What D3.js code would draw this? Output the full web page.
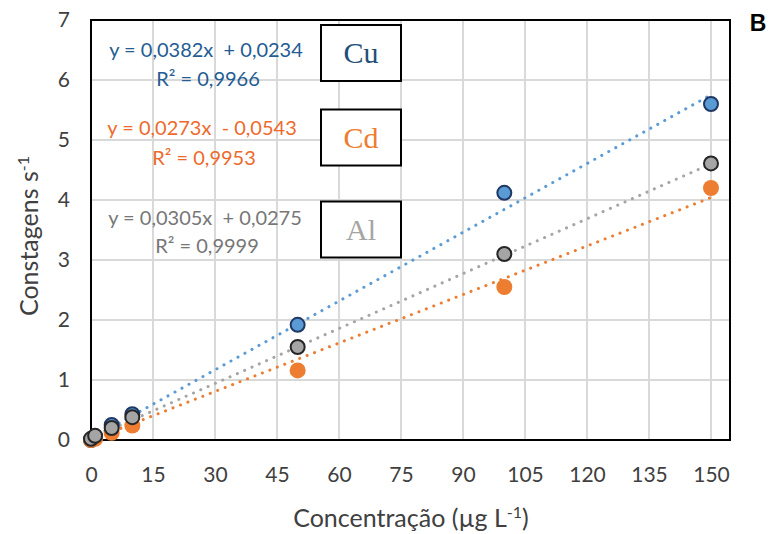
<!DOCTYPE html>
<html>
<head>
<meta charset="utf-8">
<script src="https://cdn.jsdelivr.net/npm/d3@7"></script>
<style>
  html, body { margin: 0; padding: 0; background: #fff; }
  svg { display: block; }
</style>
</head>
<body>
<svg id="chart" width="771" height="534"></svg>
<script>
// ---- data ----
const concentrations = [0, 1, 5, 10, 50, 100, 150];
const cuValues = [0, 0.05, 0.25, 0.43, 1.92, 4.12, 5.6];
const cdValues = [0, 0.02, 0.12, 0.24, 1.16, 2.55, 4.2];
const alValues = [0.02, 0.07, 0.2, 0.38, 1.55, 3.1, 4.61];
const xTicks = [0, 15, 30, 45, 60, 75, 90, 105, 120, 135, 150];
const yTicks = [0, 1, 2, 3, 4, 5, 6, 7];
const seriesNames = ["Cu", "Cd", "Al"];
const slopes = [0.0382, 0.0273, 0.0305];
const intercepts = [0.0234, -0.0543, 0.0275];
const equations = ["y = 0,0382x  + 0,0234", "y = 0,0273x  - 0,0543", "y = 0,0305x  + 0,0275"];
const r2Labels = ["R² = 0,9966", "R² = 0,9953", "R² = 0,9999"];
const xDomainMax = 154.6;
const yDomainMax = 7;

// ---- styles ----
const styles = [
  { fill: "#5B9BD5", stroke: "#1F3864", sw: 2, r: 7, line: "#5B9BD5", eq: "#245C93", label: "#1F4E79" },
  { fill: "#ED7D31", stroke: "none", sw: 0, r: 8, line: "#ED7D31", eq: "#EE6A2C", label: "#ED7D31" },
  { fill: "#A5A5A5", stroke: "#262626", sw: 2, r: 7, line: "#A5A5A5", eq: "#777777", label: "#A5A5A5" }
];
const eqPos = [ {cx: 206, y1: 57, y2: 86, by: 53}, {cx: 202, y1: 135, y2: 165, by: 137.5}, {cx: 205, y1: 225, y2: 253, by: 229.5} ];
const fontSans = "Lato, 'Noto Sans', sans-serif";

const svg = d3.select("#chart");
const pLeft = 91, pRight = 730, pTop = 20, pBottom = 440;

const x = d3.scaleLinear().domain([0, xDomainMax]).range([pLeft, pRight]);
const y = d3.scaleLinear().domain([0, yDomainMax]).range([pBottom, pTop]);

// gridlines
svg.append("g").selectAll("line").data(xTicks.filter(d => d > 0)).join("line")
  .attr("x1", d => x(d)).attr("x2", d => x(d)).attr("y1", pTop).attr("y2", pBottom)
  .attr("stroke", "#d9d9d9").attr("stroke-width", 2);
svg.append("g").selectAll("line").data(yTicks.filter(d => d > 0)).join("line")
  .attr("x1", pLeft).attr("x2", pRight).attr("y1", d => y(d)).attr("y2", d => y(d))
  .attr("stroke", "#d9d9d9").attr("stroke-width", 2);

// frame
svg.append("rect").attr("x", pLeft).attr("y", y(yDomainMax)).attr("width", pRight - pLeft).attr("height", pBottom - y(yDomainMax))
  .attr("fill", "none").attr("stroke", "#000").attr("stroke-width", 2);

// axes
const xAxis = svg.append("g").attr("transform", `translate(0,${pBottom})`)
  .call(d3.axisBottom(x).tickValues(xTicks).tickFormat(d3.format("d")).tickSize(0).tickPadding(27));
xAxis.select(".domain").remove();
xAxis.selectAll("text").attr("font-family", fontSans).attr("font-size", 21).attr("fill", "#404040");

const yAxis = svg.append("g").attr("transform", `translate(${pLeft},0)`)
  .call(d3.axisLeft(y).tickValues(yTicks).tickFormat(d3.format("d")).tickSize(0).tickPadding(21));
yAxis.select(".domain").remove();
yAxis.selectAll("text").attr("font-family", fontSans).attr("font-size", 21).attr("fill", "#404040");

// axis titles
const xt = svg.append("text").attr("x", 411).attr("y", 527).attr("text-anchor", "middle")
  .attr("font-family", fontSans).attr("font-size", 25).attr("fill", "#404040");
xt.append("tspan").text("Concentração (µg L");
xt.append("tspan").attr("dy", -9).attr("font-size", 16).text("-1");
xt.append("tspan").attr("dy", 9).text(")");

const yt = svg.append("text").attr("transform", "translate(38,236) rotate(-90)").attr("text-anchor", "middle")
  .attr("font-family", fontSans).attr("font-size", 25).attr("fill", "#404040");
yt.append("tspan").text("Constagens s");
yt.append("tspan").attr("dy", -9).attr("font-size", 16).text("-1");

// trendlines
const allValues = [cuValues, cdValues, alValues];
seriesNames.forEach((name, i) => {
  const pts = [0, d3.max(concentrations)].map(c => [c, slopes[i] * c + intercepts[i]]);
  svg.append("line")
    .attr("x1", x(pts[0][0])).attr("y1", y(Math.max(0, pts[0][1])))
    .attr("x2", x(pts[1][0])).attr("y2", y(pts[1][1]))
    .attr("stroke", styles[i].line).attr("stroke-width", 3)
    .attr("stroke-linecap", "round").attr("stroke-dasharray", "0.1 7.9");
});

// markers
seriesNames.forEach((name, i) => {
  const data = concentrations.map((c, j) => ({ c, v: allValues[i][j] }));
  svg.append("g").selectAll("circle").data(data).join("circle")
    .attr("cx", d => x(d.c)).attr("cy", d => y(d.v)).attr("r", styles[i].r)
    .attr("fill", styles[i].fill).attr("stroke", styles[i].stroke).attr("stroke-width", styles[i].sw);
});

// equations and labels
seriesNames.forEach((name, i) => {
  const p = eqPos[i];
  svg.append("text").attr("x", p.cx).attr("y", p.y1).attr("text-anchor", "middle")
    .attr("font-family", fontSans).attr("font-size", 20).attr("fill", styles[i].eq)
    .style("white-space", "pre").text(equations[i]);
  svg.append("text").attr("x", p.cx + 2).attr("y", p.y2).attr("text-anchor", "middle")
    .attr("font-family", fontSans).attr("font-size", 20).attr("fill", styles[i].eq)
    .text(r2Labels[i]);
  svg.append("rect").attr("x", 321).attr("y", p.by - 28).attr("width", 80).attr("height", 56)
    .attr("fill", "#fff").attr("stroke", "#000").attr("stroke-width", 2);
  svg.append("text").attr("x", 361).attr("y", p.by + 10).attr("text-anchor", "middle")
    .attr("font-family", "'Liberation Serif', 'DejaVu Serif', serif").attr("font-size", 30).attr("fill", styles[i].label)
    .text(name);
});

// panel letter
svg.append("text").attr("x", 758).attr("y", 31).attr("text-anchor", "middle")
  .attr("font-family", "'Liberation Sans', Arial, sans-serif").attr("font-weight", "bold").attr("font-size", 23).attr("fill", "#000")
  .text("B");
</script>
</body>
</html>
